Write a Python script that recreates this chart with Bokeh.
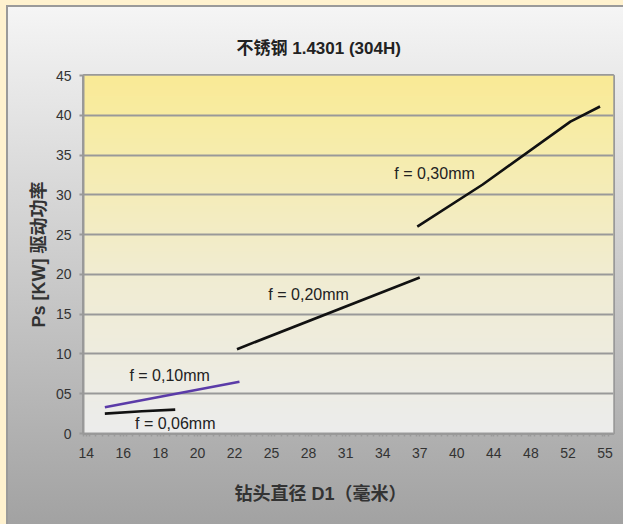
import numpy as np
from bokeh.plotting import figure
from bokeh.models import FixedTicker, Range1d, Title
from bokeh.embed import file_html
from bokeh.resources import INLINE
from bokeh.core.properties import value

# ---- data ----
d_ticks = [14, 16, 18, 20, 22, 25, 28, 31, 34, 37, 40, 44, 48, 52, 55]
y_ticks = [0, 5, 10, 15, 20, 25, 30, 35, 40, 45]
y_tick_labels = ["0", "05", "10", "15", "20", "25", "30", "35", "40", "45"]

d_f006 = [15.0, 17.0, 18.8]
p_f006 = [2.5, 2.8, 3.0]
d_f010 = [15.0, 22.4]
p_f010 = [3.3, 6.5]
d_f020 = [22.2, 37.0]
p_f020 = [10.6, 19.6]
d_f030 = [36.8, 42.8, 52.2, 54.6]
p_f030 = [26.0, 31.3, 39.2, 41.1]

series_labels = ["f = 0,06mm", "f = 0,10mm", "f = 0,20mm", "f = 0,30mm"]
label_d = [18.8, 18.5, 28.0, 38.2]
label_p = [1.3, 7.3, 17.5, 32.7]

title_text = "不锈钢 1.4301 (304H)"
x_title = "钻头直径 D1（毫米）"
y_title = "Ps [KW] 驱动功率"

idx = np.arange(len(d_ticks))


def to_pos(d):
    return np.interp(d, d_ticks, idx)


FONT = "Liberation Sans, Noto Sans CJK SC"
TICKFONT = "Liberation Sans"
GRID = "#999999"

x0, x1 = -0.076, 14.23
p = figure(width=623, height=524, output_backend="svg", toolbar_location=None,
           x_range=Range1d(x0, x1), y_range=Range1d(0, 45),
           min_border_left=83, min_border_right=10, min_border_top=75, min_border_bottom=91)

p.border_fill_color = None
p.background_fill_color = "#eeeeee"
p.styles = {"background": "linear-gradient(180deg, #f6f6f6 0%, #a2a2a2 100%)",
            "box-shadow": "inset 6px 5px 0 0 #fff2cf, inset 8px 7px 0 0 #9a9a9a"}
p.outline_line_color = GRID
p.outline_line_width = 3

# plot-area gradient (yellow at top fading to light gray)
stops_y = [0, 20, 40, 45]
stops_c = np.array([[236, 236, 236], [241, 237, 210], [248, 236, 162], [250, 234, 150]])
ys = np.linspace(0, 45, 181)
img = np.empty((len(ys), 1), dtype=np.uint32)
view = img.view(dtype=np.uint8).reshape((len(ys), 1, 4))
for k in range(3):
    view[:, 0, k] = np.interp(ys, stops_y, stops_c[:, k]).astype(np.uint8)
view[:, 0, 3] = 255
p.image_rgba(image=[img], x=x0, y=0, dw=x1 - x0, dh=45, level="image")

# grid
p.xgrid.grid_line_color = None
p.ygrid.grid_line_color = GRID
p.ygrid.grid_line_width = 2

# lines
series = [(d_f006, p_f006, "#111111"), (d_f010, p_f010, "#5b3ba8"),
          (d_f020, p_f020, "#111111"), (d_f030, p_f030, "#111111")]
for d, pw, col in series:
    p.line(to_pos(d), pw, line_color=col, line_width=2.6)

p.text(x=list(to_pos(label_d)), y=label_p, text=series_labels,
       text_font=value("Liberation Sans"), text_font_size="16px",
       text_color="#222222", text_align="center", text_baseline="middle")

# axes
p.yaxis.ticker = FixedTicker(ticks=y_ticks)
p.yaxis.major_label_overrides = {t: l for t, l in zip(y_ticks, y_tick_labels)}
p.yaxis.minor_tick_line_color = None
p.yaxis.major_tick_out = 4
p.yaxis.major_tick_in = 0
p.yaxis.major_tick_line_color = GRID
p.yaxis.major_tick_line_width = 2
p.yaxis.axis_line_color = GRID
p.yaxis.axis_line_width = 2
p.yaxis.major_label_standoff = 8
p.yaxis.major_label_text_font = TICKFONT
p.yaxis.major_label_text_font_size = "14px"
p.yaxis.major_label_text_color = "#333333"
p.yaxis.axis_label = y_title
p.yaxis.axis_label_text_font = FONT
p.yaxis.axis_label_text_font_style = "bold"
p.yaxis.axis_label_text_font_size = "18px"
p.yaxis.axis_label_text_color = "#333333"
p.yaxis.axis_label_standoff = 4

minor = [float(v) for v in np.arange(x0, x1, 1.0 / 6.0)]
p.xaxis.ticker = FixedTicker(ticks=[int(i) for i in idx], minor_ticks=minor)
p.xaxis.major_label_overrides = {int(i): str(d) for i, d in zip(idx, d_ticks)}
p.xaxis.major_tick_out = 3
p.xaxis.major_tick_in = 0
p.xaxis.minor_tick_out = 3
p.xaxis.minor_tick_in = 0
p.xaxis.major_tick_line_color = GRID
p.xaxis.minor_tick_line_color = GRID
p.xaxis.major_tick_line_width = 1.5
p.xaxis.minor_tick_line_width = 1.5
p.xaxis.axis_line_color = GRID
p.xaxis.axis_line_width = 2
p.xaxis.major_label_standoff = 11
p.xaxis.major_label_text_font = TICKFONT
p.xaxis.major_label_text_font_size = "14px"
p.xaxis.major_label_text_color = "#333333"

# titles
p.title.text = title_text
p.title.align = "left"
p.title.offset = 153
p.title.standoff = 35
p.title.text_font = FONT
p.title.text_font_style = "bold"
p.title.text_font_size = "17px"
p.title.text_color = "#222222"

p.add_layout(Title(text=x_title, align="left", offset=151, standoff=42, text_font=FONT,
                   text_font_style="bold", text_font_size="18px",
                   text_color="#333333"), "below")

open("out.html", "w").write(file_html(p, INLINE))
